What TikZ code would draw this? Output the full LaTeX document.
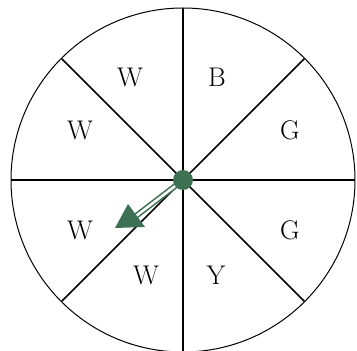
\documentclass[tikz,border=0pt]{standalone}
\usepackage{tikz}
\usetikzlibrary{arrows.meta}
\definecolor{VerdeAguja}{RGB}{62,112,84}

\begin{document}
\begin{tikzpicture}[x=1pt,y=1pt,>=Latex,
    letra/.style={font=\fontsize{27}{30}\selectfont}]
  \useasboundingbox (0,0) rectangle (357,351);
  \coordinate (O) at (183,171);
  \draw[line width=1pt] (O) circle (172);

  \foreach \a in {0,45,...,315}
    \draw[line width=1.6pt] (O) -- ++(\a:172);
  \draw[line width=2.4pt] (O) ++(-90:172) -- ++(90:344);

  \node[letra] (w1) at (130,274) {W};
  \node[letra] (b)  at (217,274) {B};
  \node[letra] (g1) at (290,221) {G};
  \node[letra] (g2) at (290,121) {G};
  \node[letra] (y)  at (216,76)  {Y};
  \node[letra] (w2) at (146,76)  {W};
  \node[letra] (w3) at (80,121)  {W};
  \node[letra] (w4) at (80,221)  {W};

  % aguja
  \coordinate (punta) at (115,123);
  \coordinate (base) at (136,135);
  \draw[VerdeAguja,line width=1.6pt,double=white,double distance=2.5pt] (O) -- (base);
  \fill[VerdeAguja] (punta) -- (128,147) -- (145,124) -- cycle;
  \fill[VerdeAguja] (O) circle (10);
\end{tikzpicture}
\end{document}
